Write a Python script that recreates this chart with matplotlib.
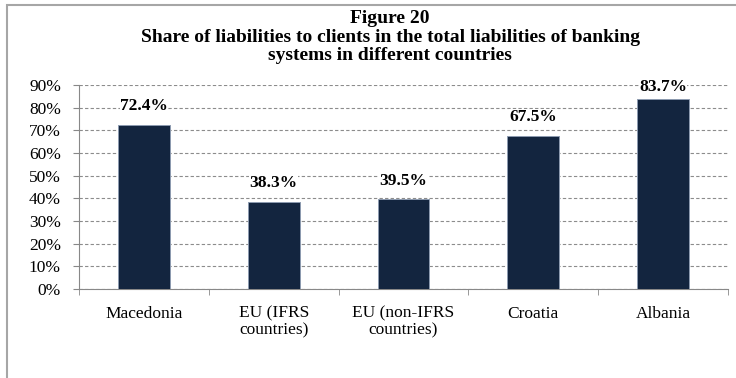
import matplotlib.pyplot as plt
from matplotlib.patches import Rectangle
from matplotlib.ticker import MultipleLocator, PercentFormatter

# Datos
paises = ['Macedonia', 'EU (IFRS\ncountries)', 'EU (non-IFRS\ncountries)', 'Croatia', 'Albania']
participacion = [72.4, 38.3, 39.5, 67.5, 83.7]

plt.rcParams['font.family'] = ['Liberation Serif', 'DejaVu Serif']

fig = plt.figure(figsize=(7.36, 3.78), dpi=100)
ax = fig.add_axes([79 / 736, 1 - 289 / 378, (728 - 79) / 736, (289 - 85) / 378])

# marco exterior
fig.patches.append(Rectangle((7 / 736, -0.02), 1.0, 1 - 5 / 378 + 0.02,
                             transform=fig.transFigure, fill=False,
                             edgecolor='#a6a6a6', linewidth=1.5))

x = range(len(paises))
ax.bar(x, participacion, width=0.4, color='#13253f', edgecolor='#8d9bb0',
       linewidth=0.7, zorder=3)

# etiquetas de valor, sin salirse del area del grafico
for i, v in enumerate(participacion):
    ax.text(i, min(v + 6.5, 87.5), '{:.1f}%'.format(v),
            ha='center', va='baseline', fontsize=12.5, fontweight='bold', zorder=4,
            bbox=dict(facecolor='white', edgecolor='none', pad=0.3))

ax.set_xlim(-0.5, len(paises) - 0.5)
ax.set_ylim(0, 90)
ax.yaxis.set_major_locator(MultipleLocator(10))
ax.yaxis.set_major_formatter(PercentFormatter(decimals=0))
ax.grid(axis='y', linestyle='--', color='#8c8c8c', linewidth=0.8, dashes=(3, 2), zorder=0)

ax.set_xticks(list(x))
ax.set_xticklabels(paises, fontsize=12.5, linespacing=1.05)
ax.set_xticks([i - 0.5 for i in range(len(paises) + 1)], minor=True)
ax.tick_params(axis='x', which='major', length=0, pad=12)
ax.tick_params(axis='x', which='minor', length=4, color='#888888', direction='out')
ax.tick_params(axis='y', labelsize=12.5, length=4, color='#888888', pad=9)

for lado in ['top', 'right']:
    ax.spines[lado].set_visible(False)
for lado in ['left', 'bottom']:
    ax.spines[lado].set_color('#888888')

fig.text(0.53, 1 - 10 / 378, 'Figure 20\nShare of liabilities to clients in the total liabilities of banking\nsystems in different countries',
         ha='center', va='top', fontsize=14, fontweight='bold', linespacing=1.12)

fig.savefig('out.png', dpi=100)
